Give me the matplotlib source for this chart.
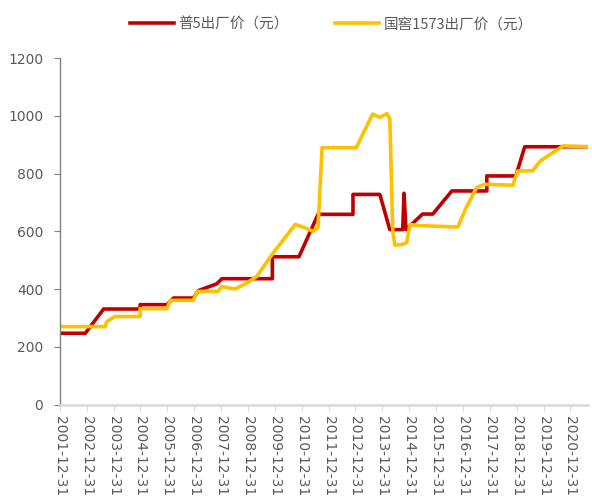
import matplotlib
matplotlib.use("Agg")
import matplotlib.pyplot as plt

plt.rcParams['font.family'] = ['Noto Sans CJK SC', 'DejaVu Sans']

# x positions in decimal years (2002.0 == 2001-12-31)
pu5_x = [2002.00, 2002.95, 2003.63, 2004.99, 2004.99, 2005.99, 2006.23, 2006.97,
         2007.16, 2007.84, 2008.03, 2009.91, 2009.91, 2010.90, 2011.61, 2012.91,
         2012.91, 2013.91, 2014.28, 2014.76, 2014.81, 2014.88, 2015.50, 2015.88,
         2016.59, 2017.89, 2017.89, 2018.97, 2019.30, 2021.65]
pu5_y = [247, 247, 331, 331, 346, 346, 369, 369,
         395, 418, 436, 436, 512, 512, 659, 659,
         728, 728, 606, 606, 732, 606, 660, 660,
         740, 740, 792, 792, 893, 893]

gj_x = [2002.00, 2003.69, 2003.75, 2004.06, 2004.99, 2004.99, 2005.99, 2006.11,
        2006.97, 2007.11, 2007.89, 2008.03, 2008.52, 2008.96, 2009.33, 2009.94,
        2010.76, 2011.13, 2011.43, 2011.61, 2011.76, 2013.03, 2013.64, 2013.91,
        2014.17, 2014.28, 2014.39, 2014.47, 2014.76, 2014.91, 2015.03, 2015.40,
        2016.81, 2017.11, 2017.51, 2017.82, 2018.86, 2019.04, 2019.60, 2019.88,
        2020.73, 2021.65]
gj_y = [270, 270, 288, 305, 305, 332, 332, 361,
        361, 392, 392, 409, 400, 421, 444, 525,
        624, 612, 600, 615, 890, 890, 1006, 995,
        1008, 990, 600, 552, 555, 562, 624, 620,
        615, 680, 752, 763, 760, 809, 810, 844,
        896, 893]

tick_years = list(range(2002, 2022))
tick_labels = [f"{y - 1}-12-31" for y in tick_years]

fig = plt.figure(figsize=(5.92, 4.97), dpi=100)
ax = fig.add_axes([0.101, 0.186, 0.892, 0.697])

ax.plot(pu5_x, pu5_y, color='#C00000', linewidth=2.6, solid_joinstyle='round',
        label='普5出厂价（元）')
ax.plot(gj_x, gj_y, color='#FFC000', linewidth=2.6, solid_joinstyle='round',
        label='国窖1573出厂价（元）')

ax.set_xlim(2002.0, 2021.65)
ax.set_ylim(0, 1200)
ax.set_yticks(range(0, 1201, 200))
ax.set_xticks(tick_years)
ax.set_xticklabels(tick_labels, rotation=270, family='DejaVu Sans')

for lab in ax.get_yticklabels():
    lab.set_family('DejaVu Sans')

ax.tick_params(axis='x', colors='#595959', labelsize=10, length=4, color='#D9D9D9',
               pad=4)
ax.tick_params(axis='y', colors='#595959', labelsize=10, length=4, color='#808080',
               pad=8)

for side in ['top', 'right']:
    ax.spines[side].set_visible(False)
ax.spines['left'].set_color('#808080')
ax.spines['left'].set_linewidth(1.0)
ax.spines['bottom'].set_color('#D9D9D9')
ax.spines['bottom'].set_linewidth(1.8)

leg = fig.legend(loc='upper center', bbox_to_anchor=(0.56, 0.992), ncol=2,
                 frameon=False, fontsize=10.5, handlelength=3.0,
                 handletextpad=0.3, columnspacing=3.2)
for t in leg.get_texts():
    t.set_color('#595959')

fig.savefig('out.png', dpi=100)
